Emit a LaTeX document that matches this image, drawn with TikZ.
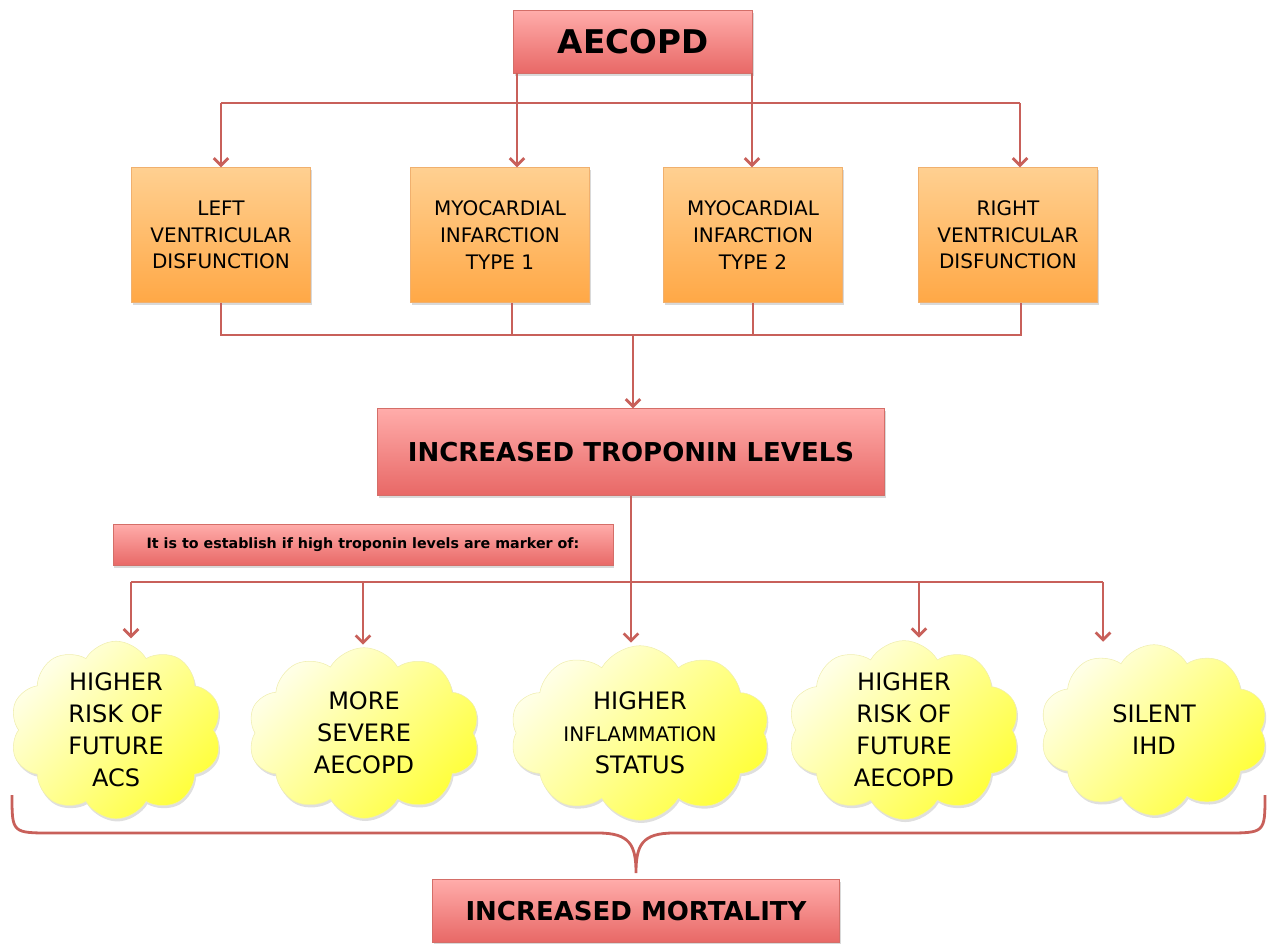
\documentclass[tikz,border=0pt]{standalone}
\usepackage{fontspec}
\setmainfont{DejaVu Sans}
\usetikzlibrary{shapes.symbols,shadows,arrows.meta}

\definecolor{connRed}{RGB}{200,96,90}
\definecolor{redTop}{RGB}{255,172,170}
\definecolor{redBottom}{RGB}{232,104,102}
\definecolor{redLine}{RGB}{212,110,104}
\definecolor{orangeTop}{RGB}{255,208,145}
\definecolor{orangeBottom}{RGB}{255,168,70}
\definecolor{orangeLine}{RGB}{240,176,110}
\definecolor{cloudLight}{RGB}{255,255,232}
\definecolor{cloudDark}{RGB}{255,255,60}
\definecolor{cloudLine}{RGB}{240,238,175}

\begin{document}
\begin{tikzpicture}[
  x=0.75pt, y=-0.75pt,
  >={Straight Barb[length=5.5pt,width=11pt]},
  redbox/.style={draw=redLine, top color=redTop, bottom color=redBottom,
    drop shadow={opacity=0.3, shadow xshift=1pt, shadow yshift=-2pt},
    font=\bfseries, align=center},
  orangebox/.style={draw=orangeLine, top color=orangeTop, bottom color=orangeBottom,
    drop shadow={opacity=0.3, shadow xshift=1pt, shadow yshift=-2pt},
    minimum width=134pt, minimum height=101pt, align=center,
    font=\fontsize{15}{20}\selectfont},
  bubble/.style={cloud, cloud puffs=10, cloud puff arc=120, cloud ignores aspect,
    draw=cloudLine, top color=cloudLight, bottom color=cloudDark, shading angle=45,
    drop shadow={opacity=0.25, shadow xshift=1pt, shadow yshift=-2pt},
    minimum width=#1, minimum height=128pt, inner sep=0pt, align=center,
    font=\fontsize{18}{24}\selectfont},
  bubble/.default=174pt,
  conn/.style={draw=connRed, line width=2.1pt},
  flow/.style={conn, ->}]

\useasboundingbox (0,0) rectangle (1268,943);

% Boxes
\node[redbox, minimum width=179pt, minimum height=47pt,
  font=\bfseries\fontsize{24.5}{28}\selectfont] (aecopd) at (633,42) {AECOPD};

\node[orangebox] (leftVentricular) at (221,235) {LEFT\\VENTRICULAR\\DISFUNCTION};
\node[orangebox] (infarctionTypeOne) at (500,235) {MYOCARDIAL\\INFARCTION\\TYPE 1};
\node[orangebox] (infarctionTypeTwo) at (753,235) {MYOCARDIAL\\INFARCTION\\TYPE 2};
\node[orangebox] (rightVentricular) at (1008,235) {RIGHT\\VENTRICULAR\\DISFUNCTION};

\node[redbox, minimum width=380pt, minimum height=65pt,
  font=\bfseries\fontsize{19.5}{24}\selectfont] (troponinLevels) at (631,452)
  {INCREASED TROPONIN LEVELS};

\node[redbox, minimum width=375pt, minimum height=31pt,
  font=\bfseries\fontsize{10.7}{12}\selectfont] (markerNote) at (363,545)
  {It is to establish if high troponin levels are marker of:};

% Clouds
\node[bubble=159pt] (riskACS) at (116,730) {HIGHER\\RISK OF\\FUTURE\\ACS};
\node[bubble] (severeAECOPD) at (364,733) {MORE\\SEVERE\\AECOPD};
\node[bubble=195pt, minimum height=131pt] (inflammation) at (640,733)
  {HIGHER\\{\fontsize{15}{24}\selectfont INFLAMMATION}\\STATUS};
\node[bubble] (riskAECOPD) at (904,730) {HIGHER\\RISK OF\\FUTURE\\AECOPD};
\node[bubble=171pt] (silentIHD) at (1154,730) {SILENT\\IHD};

\node[redbox, minimum width=305pt, minimum height=47pt,
  font=\bfseries\fontsize{19.5}{24}\selectfont] (mortality) at (636,911)
  {INCREASED MORTALITY};

% Fork under AECOPD
\coordinate (topBusL) at (221,103);
\coordinate (topBusR) at (1020,103);
\coordinate (aecopdL) at (517,73);
\coordinate (aecopdR) at (752,73);
\draw[conn] (topBusL) -- (topBusR);
\draw[flow] (topBusL) -- (leftVentricular.north);
\draw[flow] (aecopdL) -- (aecopdL |- infarctionTypeOne.north);
\draw[flow] (aecopdR) -- (aecopdR |- infarctionTypeTwo.north);
\draw[flow] (topBusR) -- (topBusR |- rightVentricular.north);

% Join into troponin
\coordinate (lowBusL) at (221,335);
\coordinate (lowBusR) at (1021,335);
\coordinate (dropOne) at (512,335);
\coordinate (dropTwo) at (753,335);
\coordinate (lowBusMid) at (633,335);
\draw[conn] (leftVentricular.south) -- (lowBusL) -- (lowBusR) -- (lowBusR |- rightVentricular.south);
\draw[conn] (dropOne) -- (dropOne |- infarctionTypeOne.south);
\draw[conn] (dropTwo) -- (infarctionTypeTwo.south);
\draw[flow] (lowBusMid) -- (lowBusMid |- troponinLevels.north);

% Fan out to clouds
\coordinate (cloudBus) at (631,582);
\coordinate (cloudBusL) at (131,582);
\coordinate (cloudBusB) at (363,582);
\coordinate (cloudBusD) at (919,582);
\coordinate (cloudBusR) at (1103,582);
\draw[conn] (troponinLevels.south) -- (cloudBus);
\draw[conn] (cloudBusL) -- (cloudBusR);
\draw[flow] (cloudBusL) -- ([yshift=2pt]cloudBusL |- riskACS.north);
\draw[flow] (cloudBusB) -- ([yshift=2pt]cloudBusB |- severeAECOPD.north);
\draw[flow] (cloudBus) -- ([yshift=2pt]cloudBus |- inflammation.north);
\draw[flow] (cloudBusD) -- ([yshift=2pt]cloudBusD |- riskAECOPD.north);
\draw[flow] (cloudBusR) -- ([yshift=2pt]cloudBusR |- silentIHD.north);

% Brace
\coordinate (braceL) at (12,795);
\coordinate (braceTip) at (636,873);
\coordinate (braceR) at (1265,795);
\draw[conn] (braceL) .. controls (12,833) .. (52,833) -- (598,833)
  .. controls (630,833) and (636,845) .. (braceTip)
  .. controls (636,845) and (642,833) .. (674,833) -- (1225,833)
  .. controls (1265,833) .. (braceR);

\end{tikzpicture}
\end{document}
